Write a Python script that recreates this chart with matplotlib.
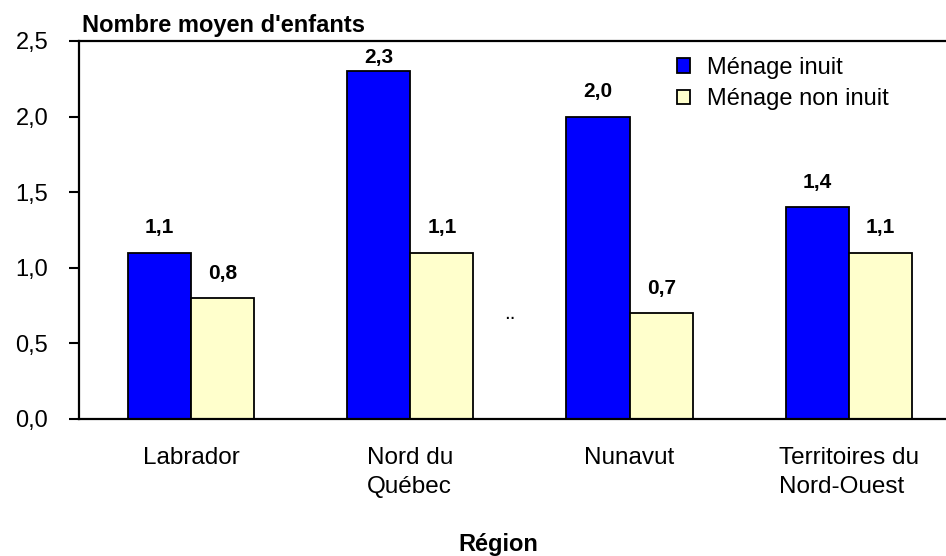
import matplotlib
matplotlib.use("Agg")
import matplotlib.pyplot as plt
import numpy as np

plt.rcParams['font.family'] = ['Liberation Sans', 'DejaVu Sans']

regions = ["Labrador", "Nord du\nQuébec", "Nunavut", "Territoires du\nNord-Ouest"]
inuit = [1.1, 2.3, 2.0, 1.4]
non_inuit = [0.8, 1.1, 0.7, 1.1]
labels_inuit = ["1,1", "2,3", "2,0", "1,4"]
labels_non_inuit = ["0,8", "1,1", "0,7", "1,1"]
yticks = [0.0, 0.5, 1.0, 1.5, 2.0, 2.5]
ytick_labels = ["0,0", "0,5", "1,0", "1,5", "2,0", "2,5"]
series_names = ["Ménage inuit", "Ménage non inuit"]
missing_mark = ".."

W, H = 946, 556
fig = plt.figure(figsize=(W / 100, H / 100), dpi=100)
ax = fig.add_axes([79 / W, 1 - 419 / H, 1 - 79 / W, (419 - 41) / H])

x = np.arange(len(regions))
bw = 0.288
ax.bar(x - bw / 2, inuit, bw, color="#0000FF", edgecolor="black", linewidth=1.3, label=series_names[0])
ax.bar(x + bw / 2, non_inuit, bw, color="#FFFFCC", edgecolor="black", linewidth=1.3, label=series_names[1])

ax.set_xlim(-0.511, 3.443)
ax.set_ylim(0, 2.5)

px = 2.5 / 378.0  # data units per pixel
for xs, vals, labs in ((x - bw / 2, inuit, labels_inuit), (x + bw / 2, non_inuit, labels_non_inuit)):
    for xi, v, lab in zip(xs, vals, labs):
        yc = min(v + 25 * px, 2.5 - 16 * px)
        ax.text(xi, yc, lab, ha="center", va="center", fontsize=15, fontweight="bold")

ax.text(1.455, 0.66, missing_mark, ha="center", va="baseline", fontsize=15)

ax.set_yticks(yticks)
ax.set_yticklabels(ytick_labels, fontsize=17)
ax.set_xticks(x)
ax.set_xticklabels(regions, fontsize=17.5, multialignment="left", linespacing=1.42)
ax.tick_params(axis="y", direction="out", length=7.2, width=1.5, pad=15)
ax.tick_params(axis="x", length=0, pad=20)

for s in ("left", "bottom", "top"):
    ax.spines[s].set_linewidth(1.6)
ax.spines["right"].set_visible(False)

fig.text(82 / W, 1 - 32 / H, "Nombre moyen d'enfants", ha="left", va="baseline", fontsize=17, fontweight="bold")
fig.text(498 / W, 1 - 551 / H, "Région", ha="center", va="baseline", fontsize=17, fontweight="bold")

ax.legend(loc="upper left", bbox_to_anchor=(677 / W, 1 - 57 / H), bbox_transform=fig.transFigure,
          frameon=False, fontsize=17, handlelength=0.57, handleheight=0.57, handletextpad=0.68,
          labelspacing=0.4, borderpad=0, borderaxespad=0)

fig.savefig("out.png", dpi=100)
